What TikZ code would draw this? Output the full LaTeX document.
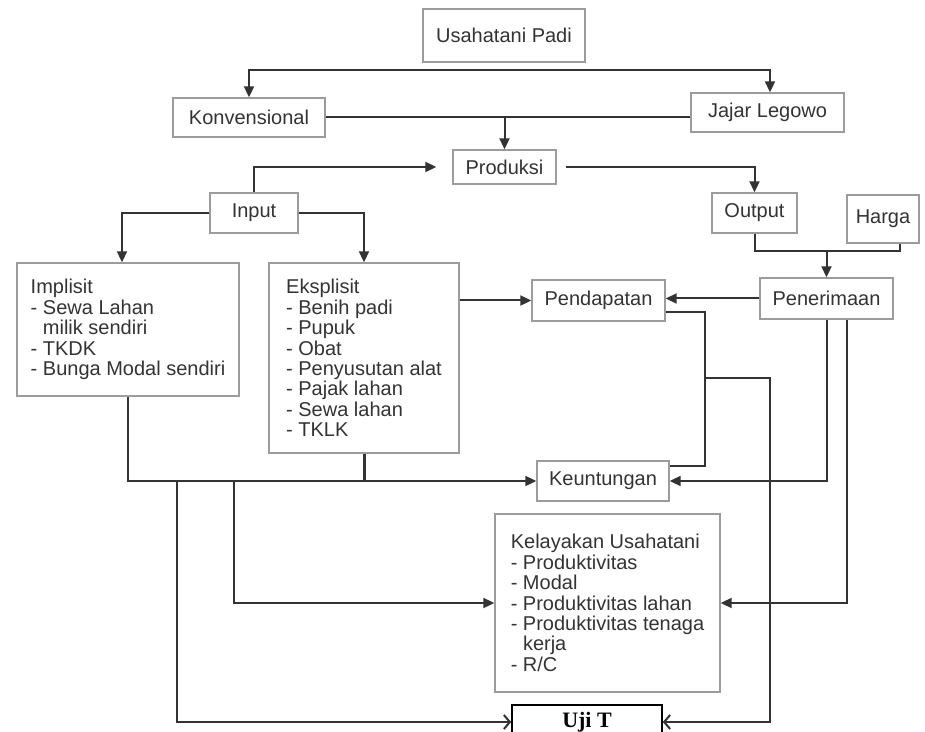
\documentclass[tikz,border=0pt]{standalone}
\usepackage{fontspec}
\setmainfont{Liberation Sans}
\newfontfamily\ujifont{Liberation Serif}
\usetikzlibrary{arrows.meta}
\definecolor{ink}{HTML}{333333}
\definecolor{frame}{HTML}{9C9C9C}

\begin{document}
\begin{tikzpicture}[x=0.5pt, y=-0.5pt,
	box/.style={draw=frame, line width=0.7pt, text=ink, font=\fontsize{10}{10.2}\selectfont, align=center},
	list/.style={box, align=left},
	wire/.style={draw=ink, line width=1pt},
	arr/.style={wire, -{Triangle[length=5.5pt,width=5pt]}},
	openarr/.style={wire, -{Straight Barb[length=3pt,width=7pt]}}]
	\useasboundingbox (0,0) rectangle (925,732);
	\clip (0,0) rectangle (925,732);
	\node[box, minimum width=81pt, minimum height=26.5pt] (padi) at (504,35.5) {Usahatani Padi};
	\node[box, minimum width=76pt, minimum height=19.5pt] (konv) at (249,117.5) {Konvensional};
	\node[box, minimum width=76.5pt, minimum height=19.5pt] (jajar) at (767.5,112.5) {Jajar Legowo};
	\node[box, minimum width=51.5pt, minimum height=17pt] (produksi) at (504.5,167) {Produksi};
	\node[box, minimum width=44pt, minimum height=20pt] (input) at (254,213) {Input};
	\node[box, minimum width=42.5pt, minimum height=20pt] (output) at (754.5,213) {Output};
	\node[box, minimum width=36pt, minimum height=24pt] (harga) at (883,219) {Harga};
	\node[box, minimum width=66.5pt, minimum height=20.5pt] (pener) at (826.5,298.5) {Penerimaan};
	\node[box, minimum width=66.5pt, minimum height=20.5pt] (pendap) at (598.5,300.5) {Pendapatan};
	\node[list, minimum width=111pt, minimum height=66.5pt] (implisit) at (128,329.5)
		{Implisit\\- Sewa Lahan\\\hphantom{- }milik sendiri\\- TKDK\\- Bunga Modal sendiri};
	\node[list, minimum width=95pt, minimum height=95pt] (eksplisit) at (364,358)
		{Eksplisit\\- Benih padi\\- Pupuk\\- Obat\\- Penyusutan alat\\- Pajak lahan\\- Sewa lahan\\- TKLK};
	\node[box, minimum width=66pt, minimum height=20pt] (keunt) at (603,481) {Keuntungan};
	\node[list, minimum width=112.5pt, minimum height=89pt] (kelay) at (607.5,603)
		{Kelayakan Usahatani\\- Produktivitas\\- Modal\\- Produktivitas lahan\\- Produktivitas tenaga\\\hphantom{- }kerja\\- R/C};
	\node[draw=black, line width=0.8pt, minimum width=75pt, minimum height=17pt,
		font=\ujifont\bfseries\fontsize{11}{11}\selectfont] (ujit) at (587,722) {Uji T};
	\coordinate (split) at (504,70);
	\draw[arr] (split) -| (konv.north);
	\draw[arr] (split) -| ([xshift=1.25pt]jajar.north);
	\draw[wire] (konv.east) -- (konv.east -| jajar.west);
	\draw[arr] (konv.east -| produksi.north) -- (produksi.north);
	\draw[arr, shorten >=8pt] (input.north) |- (produksi.west);
	\draw[arr, shorten <=4.5pt] (produksi.east) -| (output.north);
	\draw[arr] (input.west) -| ([xshift=-3pt]implisit.north);
	\draw[arr] (input.east) -| (eksplisit.north);
	\coordinate (oh) at (826.5,251);
	\draw[wire] (output.south) |- (oh) -| ([xshift=8.5pt]harga.south);
	\draw[arr] (oh) -- (pener.north);
	\draw[arr] (pener.west) -- (pener.west -| pendap.east);
	\draw[arr] (eksplisit.east |- pendap.west) -- (pendap.west);
	\draw[arr] (implisit.south) |- (keunt.west);
	\draw[wire, line width=1.5pt] (eksplisit.south) -- (eksplisit.south |- keunt.west);
	\coordinate (c1) at (177,481);
	\coordinate (c2) at (234,481);
	\draw[openarr] (c1) |- (ujit.west);
	\draw[arr] (c2) |- (kelay.west);
	\coordinate (pk) at (705,378);
	\coordinate (pu) at (770,378);
	\draw[wire] ([yshift=-6pt]pendap.east) -| (pk) |- ([yshift=7.5pt]keunt.east);
	\draw[openarr] (pk) -- (pu) |- (ujit.east);
	\draw[arr] (pener.south) |- (keunt.east);
	\draw[arr] ([xshift=10pt]pener.south) |- (kelay.east);
\end{tikzpicture}
\end{document}
